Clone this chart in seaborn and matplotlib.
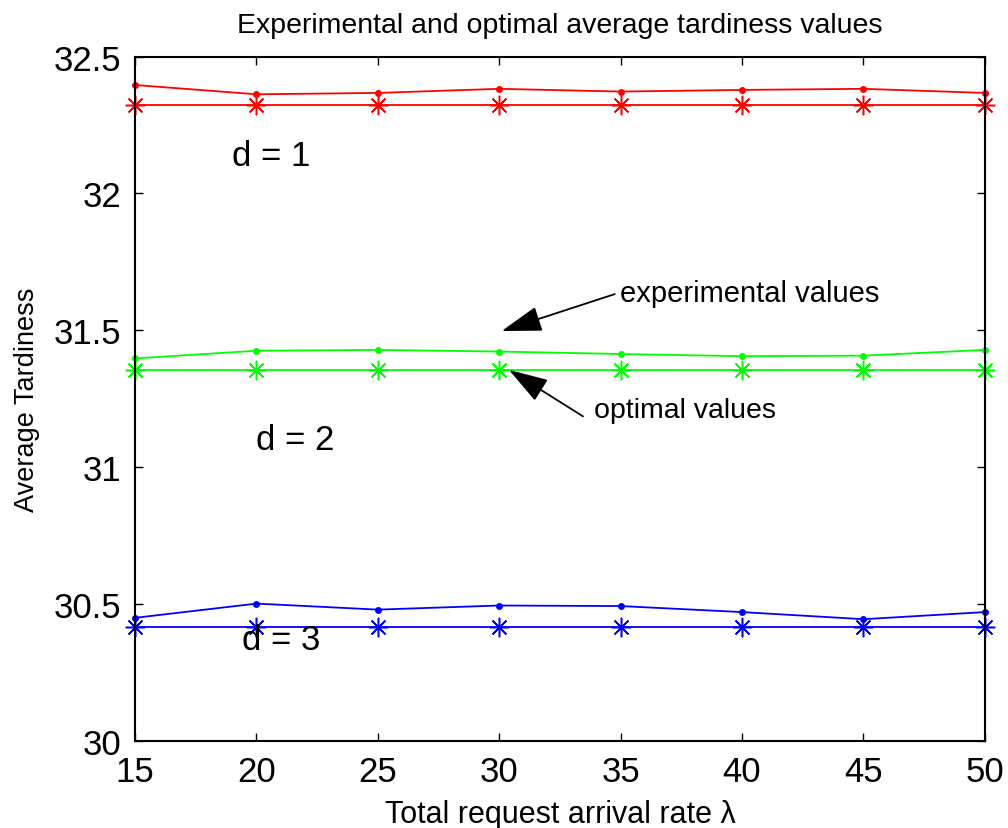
import numpy as np
import pandas as pd
import matplotlib
matplotlib.use("Agg")
import matplotlib.pyplot as plt
import seaborn as sns

rates = [15, 20, 25, 30, 35, 40, 45, 50]
exp_d1 = [32.396, 32.362, 32.367, 32.382, 32.372, 32.378, 32.382, 32.367]
opt_d1 = [32.323] * 8
exp_d2 = [31.397, 31.425, 31.428, 31.422, 31.413, 31.405, 31.407, 31.428]
opt_d2 = [31.355] * 8
exp_d3 = [30.449, 30.501, 30.479, 30.494, 30.492, 30.470, 30.444, 30.470]
opt_d3 = [30.415] * 8

series = [
    ("d1 exp", exp_d1, "#ff0000", "o"),
    ("d1 opt", opt_d1, "#ff0000", "*"),
    ("d2 exp", exp_d2, "#00ff00", "o"),
    ("d2 opt", opt_d2, "#00ff00", "*"),
    ("d3 exp", exp_d3, "#0000ff", "o"),
    ("d3 opt", opt_d3, "#0000ff", "*"),
]

sns.set_theme(style="white")
plt.rcParams['font.family'] = ['Liberation Sans', 'DejaVu Sans']
plt.rcParams['text.color'] = 'black'
plt.rcParams['axes.labelcolor'] = 'black'

fig = plt.figure(figsize=(10.08, 8.29), dpi=100)
ax = fig.add_axes([0.134, 0.1053, 0.843, 0.8253])

for name, vals, col, mk in series:
    df = pd.DataFrame({"x": rates, "y": vals})
    if mk == "o":
        sns.lineplot(data=df, x="x", y="y", ax=ax, color=col, lw=1.3,
                     marker="o", markersize=5, markeredgewidth=0, markerfacecolor=col,
                     clip_on=False)
    else:
        sns.lineplot(data=df, x="x", y="y", ax=ax, color=col, lw=1.3,
                     marker=(8, 2, 0), markersize=14, markeredgewidth=1.1,
                     markeredgecolor=col, clip_on=False)

ax.set_xlim(15, 50)
ax.set_ylim(30, 32.5)
ax.set_xticks([15, 20, 25, 30, 35, 40, 45, 50])
ax.set_yticks([30, 30.5, 31, 31.5, 32, 32.5])
ax.set_yticklabels(["30", "30.5", "31", "31.5", "32", "32.5"])
ax.tick_params(direction="in", top=True, right=True, bottom=True, left=True,
               length=6, width=1, labelsize=25, pad=10, color="black", labelcolor="black")
for sp in ax.spines.values():
    sp.set_color("black")
    sp.set_linewidth(1.5)

ax.set_title("Experimental and optimal average tardiness values", fontsize=20.5, pad=18)
ax.set_xlabel("Total request arrival rate λ", fontsize=22, labelpad=8)
ax.set_ylabel("Average Tardiness", fontsize=19.5, labelpad=10)

ax.text(20.6, 32.14, "d = 1", fontsize=25, ha="center", va="center")
ax.text(21.6, 31.10, "d = 2", fontsize=25, ha="center", va="center")
ax.text(21.0, 30.37, "d = 3", fontsize=25, ha="center", va="center")

arrow = dict(arrowstyle="-|>,head_length=1.2,head_width=0.38", color="black", lw=1.3,
             shrinkA=0, shrinkB=0)
ax.annotate("experimental values", xy=(30.1, 31.497), xytext=(34.97, 31.637),
            fontsize=21, ha="left", va="center", arrowprops=dict(arrow, relpos=(-0.02, 0.45)))
ax.annotate("optimal values", xy=(30.4, 31.355), xytext=(33.9, 31.209),
            fontsize=20.5, ha="left", va="center", arrowprops=dict(arrow, relpos=(-0.06, 0.25)))

fig.savefig("out.png", dpi=100)
